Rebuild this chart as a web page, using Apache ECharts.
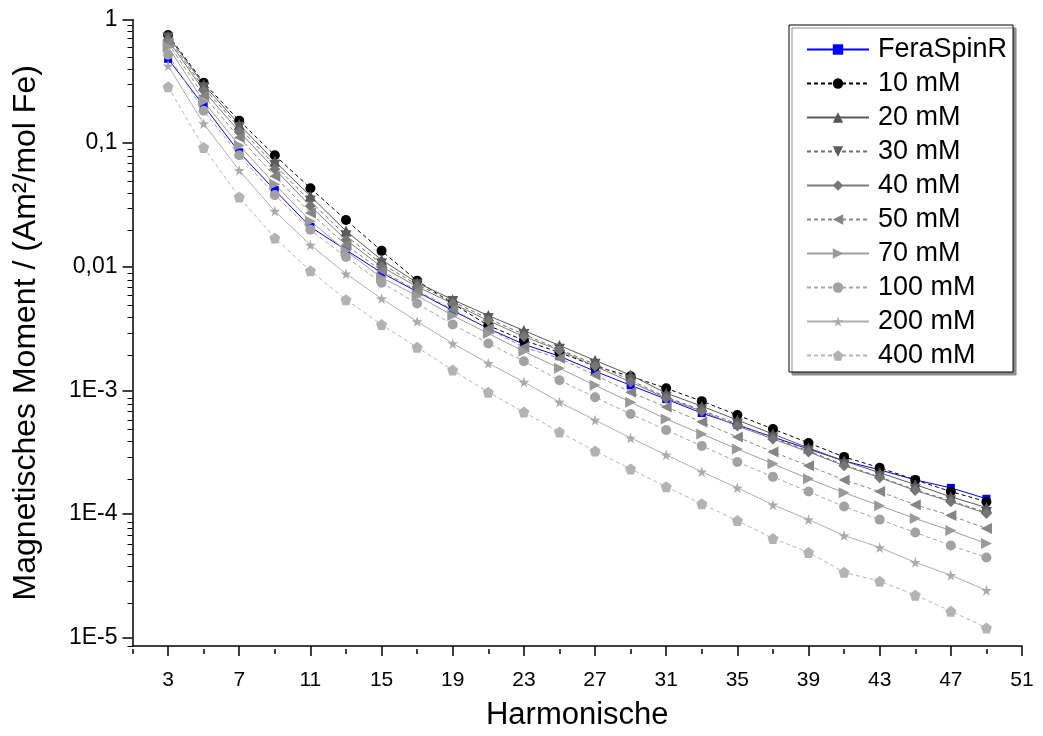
<!DOCTYPE html>
<html>
<head>
<meta charset="utf-8">
<script src="https://cdn.jsdelivr.net/npm/echarts@6/dist/echarts.min.js"></script>
<style>
html,body{margin:0;padding:0;background:#fff;}
#chart{width:1043px;height:736px;}
</style>
</head>
<body>
<div id="chart"></div>
<script>
const harmonics = [3,5,7,9,11,13,15,17,19,21,23,25,27,29,31,33,35,37,39,41,43,45,47,49];
const seriesNames = ['FeraSpinR','10 mM','20 mM','30 mM','40 mM','50 mM','70 mM','100 mM','200 mM','400 mM'];

const feraSpinR = [0.481,0.201,0.0843,0.0417,0.0210,0.0137,0.00895,0.00629,0.00442,0.00317,0.00236,0.00189,0.00143,0.00110,8.50e-4,6.56e-4,5.25e-4,4.20e-4,3.36e-4,2.69e-4,2.28e-4,1.89e-4,1.63e-4,1.33e-4];
const mM10  = [0.750,0.308,0.152,0.0797,0.0432,0.0239,0.01345,0.00771,0.00504,0.00335,0.00254,0.00203,0.00157,0.00130,0.00104,8.19e-4,6.32e-4,4.88e-4,3.76e-4,2.90e-4,2.37e-4,1.89e-4,1.52e-4,1.26e-4];
const mM20  = [0.737,0.297,0.1415,0.0713,0.0373,0.0195,0.01138,0.00743,0.00542,0.00403,0.00305,0.00231,0.00175,0.00133,9.50e-4,7.46e-4,5.76e-4,4.44e-4,3.43e-4,2.69e-4,2.16e-4,1.73e-4,1.38e-4,1.13e-4];
const mM30  = [0.710,0.281,0.134,0.0662,0.0340,0.0178,0.01057,0.00716,0.00523,0.00381,0.00284,0.00215,0.00163,0.00121,8.82e-4,6.93e-4,5.35e-4,4.13e-4,3.24e-4,2.50e-4,2.00e-4,1.57e-4,1.28e-4,1.03e-4];
const mM40  = [0.684,0.266,0.124,0.0615,0.0310,0.0165,0.0100,0.00690,0.00504,0.00367,0.00273,0.00211,0.00157,0.00117,8.66e-4,6.80e-4,5.15e-4,4.05e-4,3.18e-4,2.46e-4,1.97e-4,1.55e-4,1.26e-4,1.01e-4];
const mM50  = [0.647,0.242,0.111,0.0540,0.0272,0.0150,0.00928,0.00641,0.00451,0.00317,0.00223,0.00182,0.00133,9.68e-4,7.33e-4,5.55e-4,4.20e-4,3.18e-4,2.46e-4,1.89e-4,1.52e-4,1.19e-4,9.72e-5,7.64e-5];
const mM70  = [0.600,0.217,0.0959,0.0466,0.0234,0.01345,0.00815,0.00584,0.00403,0.00289,0.00207,0.00151,0.00110,8.04e-4,5.87e-4,4.44e-4,3.36e-4,2.55e-4,1.93e-4,1.49e-4,1.17e-4,9.19e-5,7.36e-5,5.78e-5];
const mM100 = [0.518,0.183,0.0797,0.0380,0.0199,0.0120,0.00743,0.00504,0.00341,0.00240,0.00172,0.00121,8.82e-4,6.44e-4,4.78e-4,3.56e-4,2.64e-4,2.00e-4,1.52e-4,1.15e-4,9.02e-5,7.09e-5,5.57e-5,4.46e-5];
const mM200 = [0.422,0.144,0.0603,0.0282,0.0150,0.00878,0.00553,0.00361,0.00240,0.00166,0.00117,8.04e-4,5.76e-4,4.13e-4,3.01e-4,2.20e-4,1.63e-4,1.19e-4,9.02e-5,6.71e-5,5.37e-5,4.07e-5,3.20e-5,2.42e-5];
const mM400 = [0.286,0.0924,0.0366,0.0171,0.00928,0.00542,0.00341,0.00223,0.00146,9.68e-4,6.68e-4,4.61e-4,3.24e-4,2.32e-4,1.66e-4,1.21e-4,8.86e-5,6.35e-5,4.90e-5,3.38e-5,2.86e-5,2.21e-5,1.64e-5,1.20e-5];

const xMajorTicks = [3,7,11,15,19,23,27,31,35,39,43,47,51];
const xMinorTicks = [1,5,9,13,17,21,25,29,33,37,41,45,49];
const yMajorValues = [1e-5,1e-4,1e-3,0.01,0.1,1];
const yTickLabels = ['1E-5','1E-4','1E-3','0,01','0,1','1'];
const yMinorValues = [9e-6,2e-5,3e-5,4e-5,5e-5,6e-5,7e-5,8e-5,9e-5,2e-4,3e-4,4e-4,5e-4,6e-4,7e-4,8e-4,9e-4,2e-3,3e-3,4e-3,5e-3,6e-3,7e-3,8e-3,9e-3,0.02,0.03,0.04,0.05,0.06,0.07,0.08,0.09,0.2,0.3,0.4,0.5,0.6,0.7,0.8,0.9];

const allData = [feraSpinR,mM10,mM20,mM30,mM40,mM50,mM70,mM100,mM200,mM400];

const styles = [
  {color:'#0000ff', lineColor:'#0000ff', dash:'solid', symbol:'rect', size:8},
  {color:'#000000', lineColor:'#000000', dash:[4,3], symbol:'circle', size:10},
  {color:'#555555', lineColor:'#5a5a5a', dash:'solid', symbol:'triangle', size:11},
  {color:'#5c5c5c', lineColor:'#707070', dash:[4,3], symbol:'path://M0,0L10,0L5,9Z', size:11},
  {color:'#767676', lineColor:'#7c7c7c', dash:'solid', symbol:'diamond', size:11},
  {color:'#858585', lineColor:'#8a8a8a', dash:[4,3], symbol:'path://M10,0L0,5L10,10Z', size:11},
  {color:'#9a9a9a', lineColor:'#9e9e9e', dash:'solid', symbol:'path://M0,0L10,5L0,10Z', size:11},
  {color:'#a2a2a2', lineColor:'#a6a6a6', dash:[4,3], symbol:'circle', size:10},
  {color:'#ababab', lineColor:'#aeaeae', dash:'solid', symbol:'path://M50,0L61,35L98,35L68,57L79,91L50,70L21,91L32,57L2,35L39,35Z', size:11},
  {color:'#b3b3b3', lineColor:'#b6b6b6', dash:[4,3], symbol:'path://M50,0L98,35L79,91L21,91L2,35Z', size:11}
];

const lg = v => Math.log10(v);
const yMin = -5.067;
const FONT = 'Liberation Sans, Arial, sans-serif';

const series = seriesNames.map((name, i) => ({
  name: name,
  type: 'line',
  xAxisIndex: 0,
  yAxisIndex: 0,
  data: harmonics.map((h, j) => [h, lg(allData[i][j])]),
  symbol: styles[i].symbol,
  symbolSize: styles[i].size,
  showAllSymbol: true,
  itemStyle: {color: styles[i].color},
  lineStyle: {color: styles[i].lineColor, width: 1, type: styles[i].dash},
  emphasis: {disabled: true}
}));

const gridRect = {left: 132.5, right: 21, top: 19.5, bottom: 87, containLabel: false};

const option = {
  animation: false,
  backgroundColor: '#fff',
  grid: [Object.assign({}, gridRect), Object.assign({}, gridRect)],
  xAxis: [
    {
      gridIndex: 0, type: 'value', min: 1, max: 51, position: 'bottom',
      name: 'Harmonische', nameLocation: 'middle', nameGap: 54,
      nameTextStyle: {fontSize: 31, fontFamily: FONT, color: '#000'},
      axisLine: {show: true, onZero: false, lineStyle: {color: '#000', width: 1.5}},
      axisTick: {show: true, inside: false, length: 10, customValues: xMajorTicks, lineStyle: {color: '#000', width: 1.5}},
      axisLabel: {fontSize: 21, margin: 24, customValues: xMajorTicks, fontFamily: FONT, color: '#000'},
      splitLine: {show: false}
    },
    {
      gridIndex: 1, type: 'value', min: 1, max: 51, position: 'bottom',
      axisLine: {show: false, onZero: false},
      axisTick: {show: true, inside: false, length: 5, customValues: xMinorTicks, lineStyle: {color: '#000', width: 1.5}},
      axisLabel: {show: false},
      splitLine: {show: false}
    }
  ],
  yAxis: [
    {
      gridIndex: 0, type: 'value', min: yMin, max: 0, position: 'left',
      name: 'Magnetisches Moment / (Am²/mol Fe)', nameLocation: 'middle', nameGap: 90,
      nameTextStyle: {fontSize: 32, fontFamily: FONT, color: '#000'},
      axisLine: {show: true, onZero: false, lineStyle: {color: '#000', width: 1.5}},
      axisTick: {show: true, inside: false, length: 10, customValues: yMajorValues.map(lg), lineStyle: {color: '#000', width: 1.5}},
      axisLabel: {
        fontSize: 23, margin: 15, fontFamily: FONT, color: '#000',
        customValues: yMajorValues.map(lg),
        formatter: function (val) {
          const k = Math.round(-val);
          return yTickLabels[5 - k];
        }
      },
      splitLine: {show: false}
    },
    {
      gridIndex: 1, type: 'value', min: yMin, max: 0, position: 'left',
      axisLine: {show: false, onZero: false},
      axisTick: {show: true, inside: false, length: 5, customValues: yMinorValues.map(lg), lineStyle: {color: '#000', width: 1}},
      axisLabel: {show: false},
      splitLine: {show: false}
    }
  ],
  legend: {
    orient: 'vertical',
    left: 789, top: 25,
    padding: [11, 6, 3, 17],
    itemWidth: 62, itemHeight: 13, itemGap: 7,
    backgroundColor: '#fff',
    borderColor: '#000', borderWidth: 1,
    shadowColor: '#8c8c8c', shadowOffsetX: 3, shadowOffsetY: 3, shadowBlur: 0,
    textStyle: {fontSize: 27, lineHeight: 27, fontFamily: FONT, color: '#000', padding: [0, 0, 0, 4]},
    data: seriesNames,
    selectedMode: false
  },
  series: series
};

const chart = echarts.init(document.getElementById('chart'), null, {renderer: 'canvas'});
chart.setOption(option);
</script>
</body>
</html>
